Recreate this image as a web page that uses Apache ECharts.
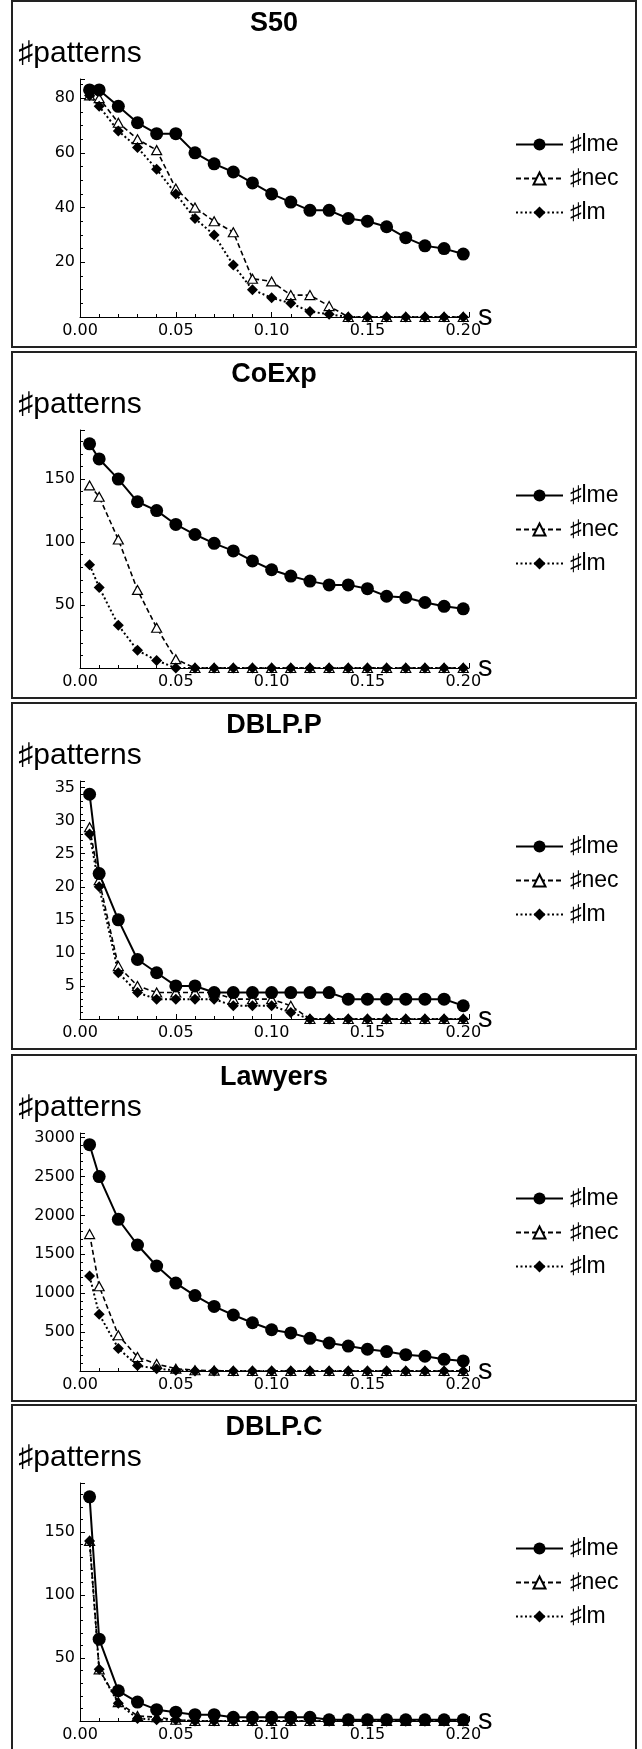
<!DOCTYPE html>
<html>
<head>
<meta charset="utf-8">
<script src="https://cdn.jsdelivr.net/npm/echarts@6/dist/echarts.min.js"></script>
<style>
  body { margin: 0; background: #fff; width: 642px; height: 1749px; overflow: hidden; }
  .frame { position: absolute; left: 11px; width: 622px; height: 344px; border: 2px solid #222; }
  .chart { position: absolute; left: 0; width: 642px; height: 350px; }
</style>
</head>
<body>
<script>
// support threshold s (x axis)
var sValues = [0.005, 0.01, 0.02, 0.03, 0.04, 0.05, 0.06, 0.07, 0.08, 0.09, 0.10,
               0.11, 0.12, 0.13, 0.14, 0.15, 0.16, 0.17, 0.18, 0.19, 0.20];
var xTicks = [0, 0.05, 0.10, 0.15, 0.20];

var seriesNames = ['♯lme', '♯nec', '♯lm'];

// S50
var s50Lme = [83, 83, 77, 71, 67, 67, 60, 56, 53, 49, 45, 42, 39, 39, 36, 35, 33, 29, 26, 25, 23];
var s50Nec = [81, 80, 71, 65, 61, 47, 40, 35, 31, 14, 13, 8, 8, 4, 0, 0, 0, 0, 0, 0, 0];
var s50Lm  = [81, 77, 68, 62, 54, 45, 36, 30, 19, 10, 7, 5, 2, 1, 0, 0, 0, 0, 0, 0, 0];
var s50Ticks = [20, 40, 60, 80];

// CoExp
var coExpLme = [178, 166, 150, 132, 125, 114, 106, 99, 93, 85, 78, 73, 69, 66, 66, 63, 57, 56, 52, 49, 47];
var coExpNec = [145, 136, 102, 62, 32, 7, 0, 0, 0, 0, 0, 0, 0, 0, 0, 0, 0, 0, 0, 0, 0];
var coExpLm  = [82, 64, 34, 14, 6, 0, 0, 0, 0, 0, 0, 0, 0, 0, 0, 0, 0, 0, 0, 0, 0];
var coExpTicks = [50, 100, 150];

// DBLP.P
var dblpPLme = [34, 22, 15, 9, 7, 5, 5, 4, 4, 4, 4, 4, 4, 4, 3, 3, 3, 3, 3, 3, 2];
var dblpPNec = [29, 21, 8, 5, 4, 4, 4, 4, 3, 3, 3, 2, 0, 0, 0, 0, 0, 0, 0, 0, 0];
var dblpPLm  = [28, 20, 7, 4, 3, 3, 3, 3, 2, 2, 2, 1, 0, 0, 0, 0, 0, 0, 0, 0, 0];
var dblpPTicks = [5, 10, 15, 20, 25, 30, 35];

// Lawyers
var lawyersLme = [2910, 2500, 1950, 1620, 1350, 1130, 970, 830, 720, 620, 530, 490, 420, 360, 320, 280, 250, 210, 190, 150, 130];
var lawyersNec = [1760, 1090, 460, 180, 90, 30, 10, 5, 0, 0, 0, 0, 0, 0, 0, 0, 0, 0, 0, 0, 0];
var lawyersLm  = [1220, 730, 290, 70, 30, 9, 0, 0, 0, 0, 0, 0, 0, 0, 0, 0, 0, 0, 0, 0, 0];
var lawyersTicks = [500, 1000, 1500, 2000, 2500, 3000];

// DBLP.C
var dblpCLme = [178, 65, 24, 15, 9, 7, 5, 5, 3, 3, 3, 3, 3, 1, 1, 1, 1, 1, 1, 1, 1];
var dblpCNec = [143, 41, 15, 4, 3, 1, 0, 0, 0, 0, 0, 0, 0, 0, 0, 0, 0, 0, 0, 0, 0];
var dblpCLm  = [143, 41, 14, 2, 1, 1, 0, 0, 0, 0, 0, 0, 0, 0, 0, 0, 0, 0, 0, 0, 0];
var dblpCTicks = [50, 100, 150];

var panelTops = [0, 351, 702, 1054, 1404];

function pairs(values) {
  return sValues.map(function (s, i) { return [s, values[i]]; });
}

function onTicks(list, digits) {
  return function (v) {
    for (var i = 0; i < list.length; i++) {
      if (Math.abs(list[i] - v) < 1e-9) return v.toFixed(digits);
    }
    return '';
  };
}

var textFont = '"Liberation Sans", "DejaVu Sans", sans-serif';
var tickFont = '"DejaVu Sans", sans-serif';

function makeChart(idx, title, yMax, yInterval, yMinor, yTicks, lme, nec, lm) {
  var frame = document.createElement('div');
  frame.className = 'frame';
  frame.style.top = panelTops[idx] + 'px';
  document.body.appendChild(frame);

  var dom = document.createElement('div');
  dom.className = 'chart';
  dom.style.top = panelTops[idx] + 'px';
  document.body.appendChild(dom);

  var myChart = echarts.init(dom, null, { renderer: 'canvas' });
  var option = {
    animation: false,
    graphic: [{
      type: 'text', x: 274, y: 24,
      style: {
        text: title, font: 'bold 27px ' + textFont, fill: '#000',
        textAlign: 'center', textVerticalAlign: 'middle', align: 'center', verticalAlign: 'middle'
      }
    }],
    legend: {
      orient: 'vertical', left: 510, top: 128,
      itemWidth: 47, itemHeight: 15, itemGap: 11,
      selectedMode: false,
      textStyle: { fontFamily: textFont, fontSize: 23, color: '#000', padding: [0, 0, 0, 2] },
      data: seriesNames
    },
    grid: { left: 80, top: 79, width: 389, height: 238, outerBoundsMode: 'none' },
    xAxis: {
      type: 'value', min: 0, max: 0.203, interval: 0.05,
      name: 's', nameLocation: 'end', nameGap: 9, nameMoveOverlap: false,
      nameTextStyle: { fontFamily: textFont, fontSize: 29, color: '#000', padding: [4, 0, 0, 0] },
      axisLine: { onZero: false, lineStyle: { color: '#000', width: 1 } },
      axisTick: { inside: true, length: 5, lineStyle: { color: '#000' } },
      minorTick: { show: true, splitNumber: 5, length: 3, lineStyle: { color: '#000' } },
      splitLine: { show: false },
      axisLabel: { fontFamily: tickFont, fontSize: 16, color: '#000', margin: 6,
                   showMaxLabel: true, formatter: onTicks(xTicks, 2) }
    },
    yAxis: {
      type: 'value', min: 0, max: yMax, interval: yInterval,
      name: '♯patterns', nameLocation: 'end', nameGap: 10, nameMoveOverlap: false,
      nameTextStyle: { fontFamily: textFont, fontSize: 30, color: '#000' },
      axisLine: { show: true, onZero: false, lineStyle: { color: '#000', width: 1 } },
      axisTick: { show: true, inside: true, length: 5, lineStyle: { color: '#000' } },
      minorTick: { show: true, splitNumber: yMinor, length: 3, lineStyle: { color: '#000' } },
      splitLine: { show: false },
      axisLabel: { fontFamily: tickFont, fontSize: 16, color: '#000', margin: 5,
                   formatter: onTicks(yTicks, 0) }
    },
    series: [
      {
        name: '♯lme', type: 'line', data: pairs(lme), z: 4,
        symbol: 'circle', symbolSize: 13, showAllSymbol: true,
        lineStyle: { color: '#000', width: 2, type: 'solid' },
        itemStyle: { color: '#000' }
      },
      {
        name: '♯nec', type: 'line', data: pairs(nec), z: 3,
        symbol: 'triangle', symbolSize: [10, 9], showAllSymbol: true,
        lineStyle: { color: '#000', width: 1.6, type: [5, 3] },
        itemStyle: { color: '#fff', borderColor: '#000', borderWidth: 1.2 }
      },
      {
        name: '♯lm', type: 'line', data: pairs(lm), z: 3,
        symbol: 'diamond', symbolSize: 11, showAllSymbol: true,
        lineStyle: { color: '#000', width: 2, type: [2, 2.5] },
        itemStyle: { color: '#000' }
      }
    ]
  };
  myChart.setOption(option, true);
  return myChart;
}

makeChart(0, 'S50', 87, 20, 4, s50Ticks, s50Lme, s50Nec, s50Lm);
makeChart(1, 'CoExp', 189, 50, 5, coExpTicks, coExpLme, coExpNec, coExpLm);
makeChart(2, 'DBLP.P', 36, 5, 5, dblpPTicks, dblpPLme, dblpPNec, dblpPLm);
makeChart(3, 'Lawyers', 3060, 500, 5, lawyersTicks, lawyersLme, lawyersNec, lawyersLm);
makeChart(4, 'DBLP.C', 189, 50, 5, dblpCTicks, dblpCLme, dblpCNec, dblpCLm);
</script>
</body>
</html>
